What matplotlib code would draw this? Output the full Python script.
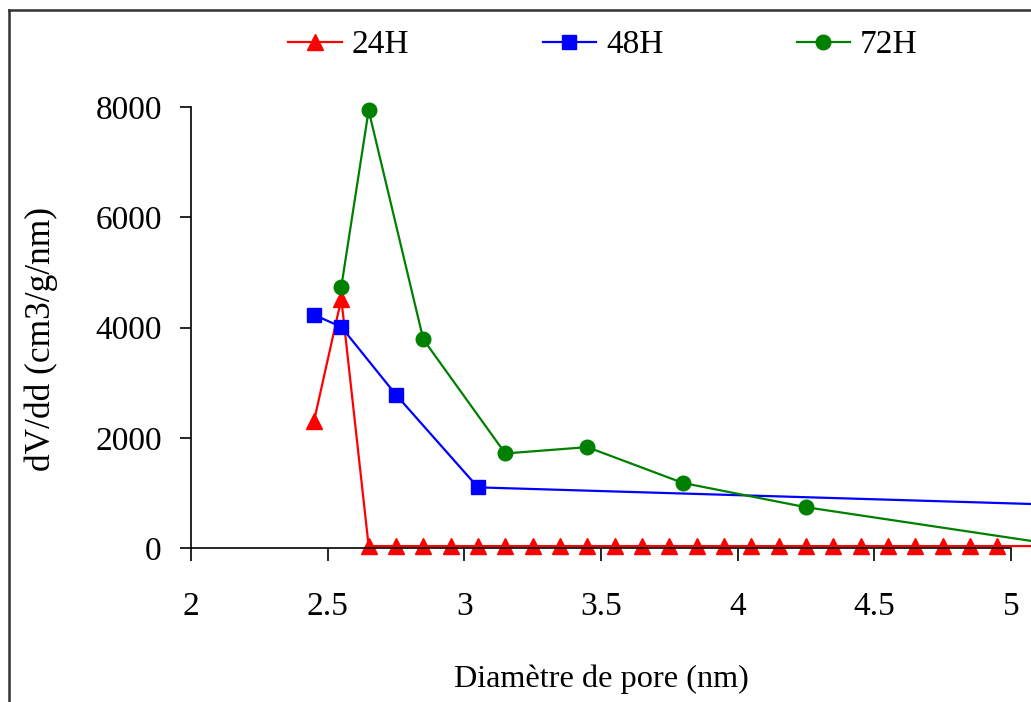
import matplotlib
matplotlib.use("Agg")
import matplotlib.pyplot as plt
from matplotlib.lines import Line2D

# diamètres (nm) et dV/dd pour chaque durée
x_24h = [2.45, 2.55, 2.65, 2.75, 2.85, 2.95, 3.05, 3.15, 3.25, 3.35, 3.45, 3.55,
         3.65, 3.75, 3.85, 3.95, 4.05, 4.15, 4.25, 4.35, 4.45, 4.55, 4.65, 4.75,
         4.85, 4.95, 5.15]
y_24h = [2300, 4520, 35, 35, 35, 35, 35, 35, 35, 35, 35, 35,
         35, 35, 35, 35, 35, 35, 35, 35, 35, 35, 35, 35,
         35, 35, 35]

x_48h = [2.45, 2.55, 2.75, 3.05, 5.5]
y_48h = [4230, 4010, 2780, 1100, 735]

x_72h = [2.55, 2.65, 2.85, 3.15, 3.45, 3.8, 4.25, 5.2]
y_72h = [4740, 7940, 3785, 1715, 1830, 1180, 740, 35]

x_ticks = [2, 2.5, 3, 3.5, 4, 4.5, 5]
x_tick_labels = ["2", "2.5", "3", "3.5", "4", "4.5", "5"]
y_ticks = [0, 2000, 4000, 6000, 8000]

plt.rcParams["font.family"] = ["Liberation Serif", "DejaVu Serif"]


def main() -> None:
    fig = plt.figure(figsize=(10.31, 7.02), dpi=100)
    ax = fig.add_axes([191 / 1031, 154 / 702, 840 / 1031, 441 / 702])

    series = [
        (x_24h, y_24h, "24H", "#FF0000", "^", 11.5),
        (x_48h, y_48h, "48H", "#0000FF", "s", 10),
        (x_72h, y_72h, "72H", "#008000", "o", 10.5),
    ]
    for xs, ys, lab, col, mk, ms in series:
        ax.plot(xs, ys, color=col, marker=mk, markersize=ms, linewidth=1.6,
                label=lab, clip_on=False)

    ax.set_xlim(2, 2 + 840 / 273.3)
    ax.set_ylim(0, 8000)
    ax.set_xticks(x_ticks)
    ax.set_xticklabels(x_tick_labels)
    ax.set_yticks(y_ticks)

    for s in ["top", "right"]:
        ax.spines[s].set_visible(False)
    ax.spines["bottom"].set_bounds(2, 5)
    ax.spines["left"].set_linewidth(1.2)
    ax.spines["bottom"].set_linewidth(1.2)

    ax.tick_params(axis="x", direction="out", length=9, width=1.2,
                   labelsize=24, pad=22)
    ax.tick_params(axis="y", direction="out", length=8, width=1.2,
                   labelsize=24, pad=13)

    ax.set_xlabel("Diamètre de pore (nm)", fontsize=23.2, labelpad=31)
    ax.set_ylabel("dV/dd (cm3/g/nm)", fontsize=25.5, labelpad=27)
    ax.xaxis.label.set_x(0.488)  # légèrement à gauche comme l'original
    ax.yaxis.label.set_y(0.473)

    fig.legend(loc="center", bbox_to_anchor=(603 / 1031, 1 - 45 / 702),
               ncol=3, frameon=False, fontsize=24, handlelength=1.6,
               handletextpad=0.3, columnspacing=4.0)

    # cadre du graphique (coupé à droite et en bas)
    fig.add_artist(Line2D([9 / 1031, 9 / 1031], [0, 1 - 10 / 702],
                          transform=fig.transFigure, color="#333333", lw=1.8))
    fig.add_artist(Line2D([9 / 1031, 1], [1 - 10 / 702, 1 - 10 / 702],
                          transform=fig.transFigure, color="#333333", lw=1.8))

    fig.savefig("out.png", dpi=100)


if __name__ == "__main__":
    main()
